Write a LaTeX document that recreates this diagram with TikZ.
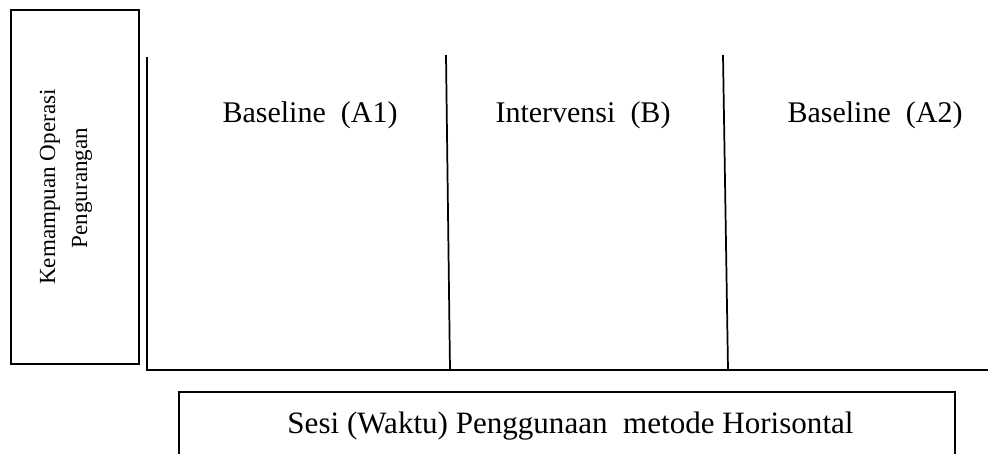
\documentclass[tikz,border=0pt]{standalone}
\usepackage{fontspec}
\setmainfont{Liberation Serif}
\begin{document}
\begin{tikzpicture}[x=0.75pt,y=-0.75pt,
  frame/.style={draw, line width=1.2pt, inner sep=0pt},
  axisline/.style={line width=1.4pt},
  divider/.style={line width=1.3pt},
  phase/.style={font=\fontsize{22.5}{27}\selectfont, anchor=base, inner sep=0pt},
  ytext/.style={font=\fontsize{17.3}{21}\selectfont, rotate=90, anchor=base, inner sep=0pt},
  xtext/.style={font=\fontsize{23.3}{28}\selectfont, anchor=base, inner sep=0pt}]
\useasboundingbox (0,0) rectangle (988,453);
\clip (0,0) rectangle (988,453);
\fill[white] (0,0) rectangle (988,453);
% left label box
\node[frame, minimum width=96pt, minimum height=265.5pt] (ybox) at (75,187) {};
\node[ytext] (ylab1) at (55,187) {Kemampuan Operasi};
\node[ytext] (ylab2) at (87,188) {Pengurangan};
% axes
\coordinate (ytop) at (147,57);
\coordinate (origin) at (147,370);
\coordinate (xend) at (990,370);
\draw[axisline] (ytop) -- (origin) -- (xend);
% dividers
\coordinate (d1top) at (446,55);
\coordinate (d1bot) at (450,370);
\coordinate (d2top) at (723,55);
\coordinate (d2bot) at (728,370);
\draw[divider] (d1top) -- (d1bot);
\draw[divider] (d2top) -- (d2bot);
% phase labels
\node[phase] (a1) at (310,122) {Baseline\ \ (A1)};
\node[phase] (b) at (583,122) {Intervensi\ \ (B)};
\node[phase] (a2) at (875,122) {Baseline\ \ (A2)};
% bottom box
\node[frame, minimum width=582pt, minimum height=66pt] (xbox) at (567,436) {};
\node[xtext] (xlab) at (570.5,433) {Sesi (Waktu) Penggunaan\ \ metode Horisontal};
\end{tikzpicture}
\end{document}
